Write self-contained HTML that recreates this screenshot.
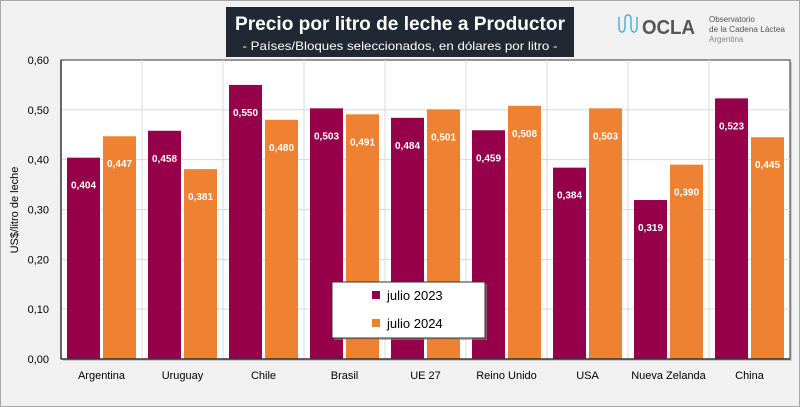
<!DOCTYPE html>
<html><head><meta charset="utf-8"><style>
body{margin:0;width:800px;height:407px;overflow:hidden;background:#f1f1f1;font-family:"Liberation Sans",sans-serif;}
#frame{position:absolute;left:0;top:0;width:798px;height:405px;border:1px solid #a8a8a8;}
</style></head><body>
<div id="frame"></div>
<svg id="c" width="800" height="407" style="position:absolute;left:0;top:0">
<rect x="226" y="7" width="348" height="50" fill="#1f2833"/>
<text x="400" y="30" text-anchor="middle" fill="#fff" font-size="19" font-weight="bold" textLength="330" lengthAdjust="spacingAndGlyphs">Precio por litro de leche a Productor</text>
<text x="400" y="50" text-anchor="middle" fill="#fff" font-size="12" textLength="315" lengthAdjust="spacingAndGlyphs">- Países/Bloques seleccionados, en dólares por litro -</text>
<g>
<path d="M619 17 v9 q0 6 3 6 q3 0 3-6 v-7 q0-4 3-4 q3 0 3 4 v7 q0 6 3 6 q3 0 3-6 v-9" fill="none" stroke="#4fb3d9" stroke-width="1.5"/>
<text x="642" y="34" font-size="20" font-weight="bold" fill="#555" textLength="53" lengthAdjust="spacingAndGlyphs">OCLA</text>
<text x="709" y="22" font-size="8" fill="#555">Observatorio</text>
<text x="709" y="32" font-size="8" fill="#555" textLength="76" lengthAdjust="spacingAndGlyphs">de la Cadena Láctea</text>
<text x="709" y="42" font-size="8" fill="#888">Argentina</text>
</g>
<rect x="63" y="62" width="729" height="299" fill="#aaa" opacity="0.5"/>
<rect x="61" y="60" width="729" height="299" fill="#fff" stroke="#333" stroke-width="1"/>
<g id="grid"></g><g id="bars"></g><g id="axes"></g>
<text transform="translate(18,210) rotate(-90)" text-anchor="middle" font-size="11" fill="#000">US$/litro de leche</text>
<g>
<rect x="334" y="284" width="153" height="56" fill="#888" opacity="0.6"/>
<rect x="332" y="282" width="153" height="56" fill="#fff" stroke="#333"/>
<g><rect x="372" y="291" width="8" height="8" fill="#96004a"/><text x="387" y="300" font-size="13">julio 2023</text></g>
<g><rect x="372" y="319" width="8" height="8" fill="#ef8232"/><text x="387" y="328" font-size="13">julio 2024</text></g>
</g>
</svg>
<script>
const categories=["Argentina","Uruguay","Chile","Brasil","UE 27","Reino Unido","USA","Nueva Zelanda","China"];
const values2023=[0.404,0.458,0.550,0.503,0.484,0.459,0.384,0.319,0.523];
const values2024=[0.447,0.381,0.480,0.491,0.501,0.508,0.503,0.390,0.445];
const yTicks=[0,0.1,0.2,0.3,0.4,0.5,0.6];
const NS="http://www.w3.org/2000/svg";
const X0=61,W=729,Y0=359,H=299,YMAX=0.6;
const cw=W/categories.length;
const y=v=>Y0-v/YMAX*H;
const fmt=v=>v.toFixed(3).replace('.',',');
function mk(t,a,p){const e=document.createElementNS(NS,t);for(const k in a)e.setAttribute(k,a[k]);p.appendChild(e);return e;}
const grid=document.getElementById('grid'),bars=document.getElementById('bars'),axes=document.getElementById('axes');
yTicks.forEach(t=>{
 if(t>0&&t<YMAX){const l=mk('line',{x1:X0,x2:X0+W,y1:y(t),y2:y(t),stroke:'#d9d9d9'},grid);
 
 }
 const tx=mk('text',{x:49,y:y(t)+4,'text-anchor':'end','font-size':11},axes);tx.textContent=t.toFixed(2).replace('.',',');
 
 
});
categories.forEach((c,i)=>{
 const cx=X0+i*cw;
 if(i>0){const l=mk('line',{x1:cx,x2:cx,y1:Y0-H,y2:Y0,stroke:'#d9d9d9'},grid);
 
 }
 [[values2023[i],'#96004a',6],[values2024[i],'#ef8232',42]].forEach(([v,col,off],s)=>{
  const b=mk('rect',{x:cx+off,y:y(v),width:33,height:Y0-y(v),fill:col},bars);
  
  
  const t=mk('text',{x:cx+off+16.5,y:y(v)+31,'text-anchor':'middle','font-size':10,'font-weight':'bold',fill:'#fff'},bars);t.textContent=fmt(v);
  
  
 });
 const t=mk('text',{x:cx+cw/2,y:379,'text-anchor':'middle','font-size':11},axes);t.textContent=c;
 
 
});
mk('line',{x1:X0,x2:X0,y1:Y0-H,y2:Y0,stroke:'#333','stroke-width':1.5},axes);
mk('line',{x1:X0,x2:X0+W,y1:Y0,y2:Y0,stroke:'#333','stroke-width':1.5},axes);
</script>
</body></html>
